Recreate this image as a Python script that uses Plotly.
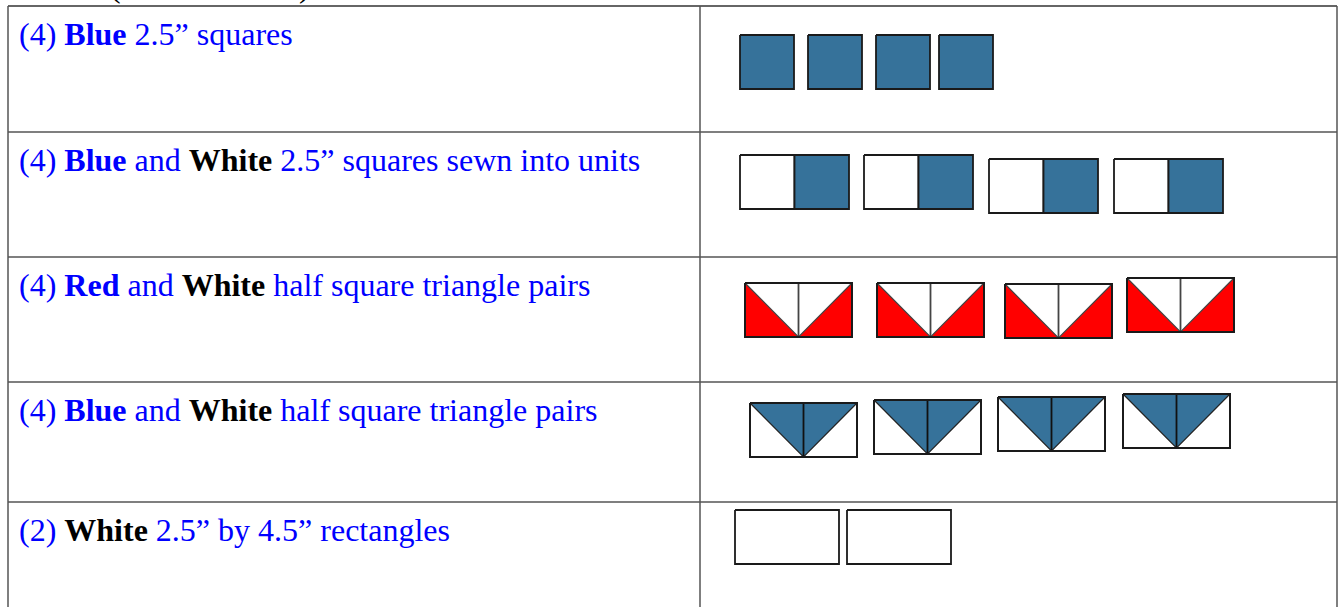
import plotly.graph_objects as go

# ---------------- data ----------------
BLUE_TXT = "#0000FF"
row_labels = [
    "(4) <b>Blue</b> 2.5\u201d squares",
    "(4) <b>Blue</b> and <b><span style='color:#000000'>White</span></b> 2.5\u201d squares sewn into units",
    "(4) <b>Red</b> and <b><span style='color:#000000'>White</span></b> half square triangle pairs",
    "(4) <b>Blue</b> and <b><span style='color:#000000'>White</span></b> half square triangle pairs",
    "(2) <b><span style='color:#000000'>White</span></b> 2.5\u201d by 4.5\u201d rectangles",
]
row_tops = [6, 132, 257, 382, 502]

# row 1: blue squares (left, top)
sq_x = [740, 808, 876, 939]
sq_y = [35, 35, 35, 35]
# row 2: white|blue units
wb_x = [740, 864, 989, 1114]
wb_y = [155, 155, 159, 159]
# row 3: red/white HST pairs
rw_x = [745, 877, 1005, 1127]
rw_y = [283, 283, 284, 278]
# row 4: blue/white HST pairs
bw_x = [750, 874, 998, 1123]
bw_y = [403, 400, 397, 394]
# row 5: white rectangles
wr_x = [735, 847]
wr_y = [510, 510]

# ---------------- style ----------------
QBLUE = "#36729A"
QRED = "#FF0000"
EDGE = "#1a1a1a"
GRID = "#555555"
W_SQ, H_SQ = 54, 54
W_U, H_U = 109, 54
W_T, H_T = 107, 54
W_R, H_R = 104, 54
FIG_W, FIG_H = 1340, 607

fig = go.Figure()


def poly(xs, ys, fill, line_w=1.8, line_col=EDGE):
    fig.add_trace(go.Scatter(
        x=list(xs) + [xs[0]], y=list(ys) + [ys[0]], mode="lines",
        fill="toself", fillcolor=fill,
        line=dict(color=line_col, width=line_w),
        hoverinfo="skip", showlegend=False))


def line(xs, ys, col=EDGE, w=1.8):
    fig.add_trace(go.Scatter(x=xs, y=ys, mode="lines",
                             line=dict(color=col, width=w),
                             hoverinfo="skip", showlegend=False))


# row 1
for x, y in zip(sq_x, sq_y):
    poly([x, x + W_SQ, x + W_SQ, x], [y, y, y + H_SQ, y + H_SQ], QBLUE)

# row 2
for x, y in zip(wb_x, wb_y):
    m = x + W_U / 2
    poly([x, m, m, x], [y, y, y + H_U, y + H_U], "white")
    poly([m, x + W_U, x + W_U, m], [y, y, y + H_U, y + H_U], QBLUE)

# row 3
for x, y in zip(rw_x, rw_y):
    m = x + W_T / 2
    poly([x, x + W_T, x + W_T, x], [y, y, y + H_T, y + H_T], QRED)
    poly([x, x + W_T, m], [y, y, y + H_T], "white", line_w=1.2, line_col="#444444")
    line([m, m], [y, y + H_T], col="#444444", w=1.8)
    line([x, x + W_T, x + W_T, x, x], [y, y, y + H_T, y + H_T, y], col=EDGE, w=1.8)

# row 4
for x, y in zip(bw_x, bw_y):
    m = x + W_T / 2
    poly([x, x + W_T, x + W_T, x], [y, y, y + H_T, y + H_T], "white")
    poly([x, x + W_T, m], [y, y, y + H_T], QBLUE, line_w=1.2, line_col="#222222")
    line([m, m], [y, y + H_T], col="#111111", w=1.8)
    line([x, x + W_T, x + W_T, x, x], [y, y, y + H_T, y + H_T, y], col=EDGE, w=1.8)

# row 5
for x, y in zip(wr_x, wr_y):
    poly([x, x + W_R, x + W_R, x], [y, y, y + H_R, y + H_R], "white")

# table grid
shapes = []
shapes.append(dict(type="line", x0=8, x1=1337, y0=6, y1=6, line=dict(color="#333333", width=1.5)))
for yt in row_tops[1:]:
    shapes.append(dict(type="line", x0=8, x1=1337, y0=yt, y1=yt, line=dict(color=GRID, width=1.5)))
for xv in [8, 700, 1337]:
    shapes.append(dict(type="line", x0=xv, x1=xv, y0=6, y1=620, line=dict(color=GRID, width=1.5)))

annotations = []
for lab, yt in zip(row_labels, row_tops):
    annotations.append(dict(
        x=17, y=yt + 28, xref="x", yref="y", text=lab, showarrow=False,
        xanchor="left", yanchor="middle",
        font=dict(family="Liberation Serif", size=32, color=BLUE_TXT)))
# cut-off heading line above the table (only the bottoms of its parentheses show)
for px, ch in [(115, "("), (304, ")")]:
    annotations.append(dict(
        x=px / FIG_W, y=1 + 14 / FIG_H, xref="paper", yref="paper", text=ch,
        showarrow=False, xanchor="center", yanchor="middle",
        font=dict(family="Liberation Serif", size=32, color="#000000")))

fig.update_layout(
    width=FIG_W, height=FIG_H,
    margin=dict(l=0, r=0, t=0, b=0),
    paper_bgcolor="white", plot_bgcolor="white",
    xaxis=dict(range=[0, FIG_W], visible=False, fixedrange=True),
    yaxis=dict(range=[FIG_H, 0], visible=False, fixedrange=True),
    shapes=shapes, annotations=annotations,
    showlegend=False,
)

fig.write_html("out.html", config={"displayModeBar": False},
               post_script="document.body.style.margin='0px';document.body.style.overflow='hidden';")
